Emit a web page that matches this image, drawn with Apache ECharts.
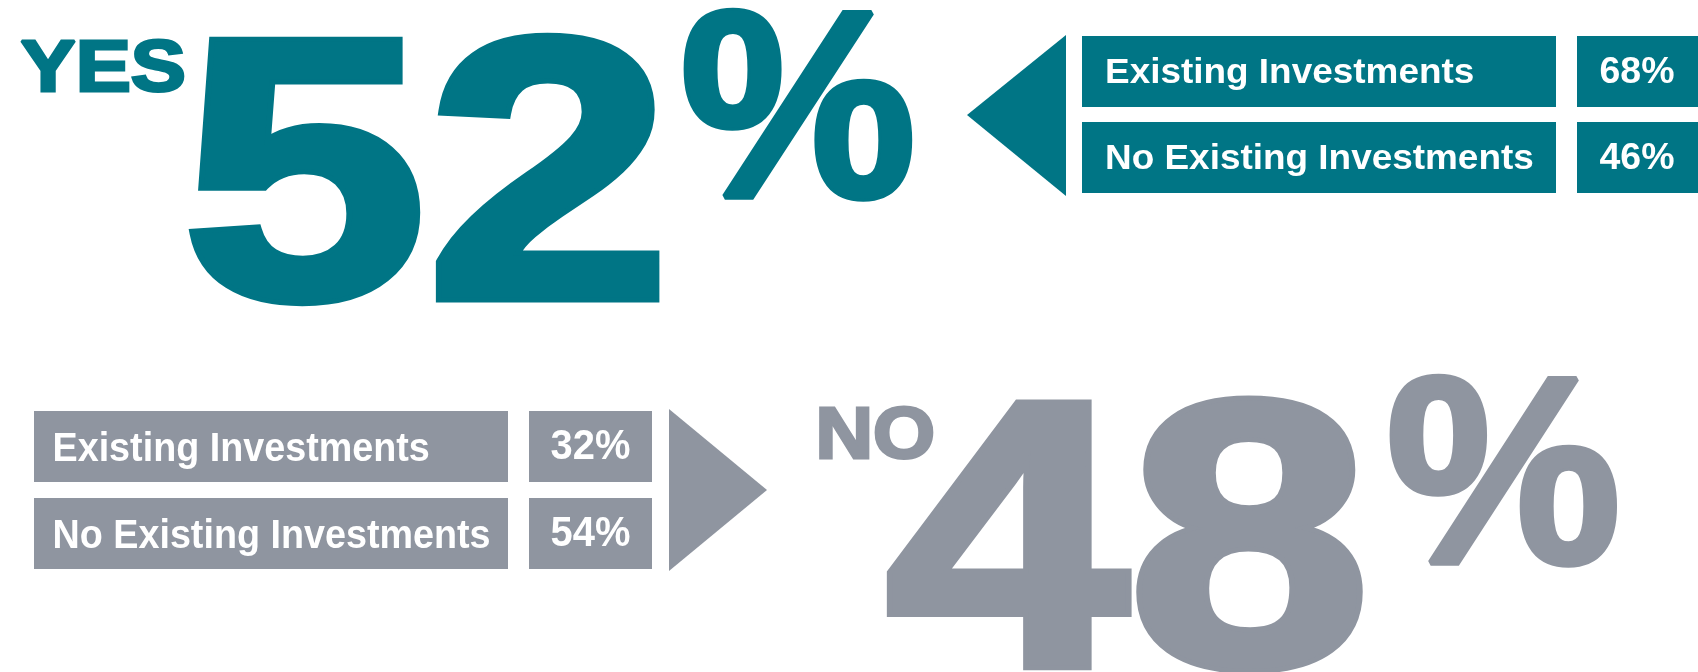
<!DOCTYPE html>
<html>
<head>
<meta charset="utf-8">
<title>Yes 52% / No 48%</title>
<script src="https://cdn.jsdelivr.net/npm/echarts@6/dist/echarts.min.js"></script>
<style>
  html, body { margin: 0; padding: 0; background: #fff; }
  #chart { width: 1698px; height: 672px; }
</style>
</head>
<body>
<div id="chart"></div>
<script>
// data
const answers = ['YES', 'NO'];
const answerShare = [52, 48];
const segments = ['Existing Investments', 'No Existing Investments'];
const yesBySegment = [68, 46];
const noBySegment = [32, 54];

const TEAL = '#007585';
const GREY = '#8f95a0';
const FONT = '"Liberation Sans", Arial, Helvetica, sans-serif';

// text helper: y is the middle line, scaleX stretches from the left edge,
// an optional outline of the same colour makes the heavy display weight
function txt(str, x, y, size, color, sx, align, heavy) {
  const style = {
    text: str,
    x: 0,
    y: 0,
    fill: color,
    fontSize: size,
    fontWeight: 'bold',
    fontFamily: FONT,
    align: align || 'left',
    verticalAlign: 'middle'
  };
  if (heavy) {
    style.stroke = color;
    style.lineWidth = heavy;
    style.lineJoin = 'miter';
    style.miterLimit = 2;
  }
  return { type: 'text', x: x, y: y, scaleX: sx || 1, style: style };
}

function box(x, y, w, h, color) {
  return { type: 'rect', shape: { x: x, y: y, width: w, height: h }, style: { fill: color } };
}

function arrow(points, color) {
  return { type: 'polygon', shape: { points: points }, style: { fill: color } };
}

const chartDom = document.getElementById('chart');
const myChart = echarts.init(chartDom, null, { renderer: 'canvas' });

const els = [];

// YES block
els.push(txt(answers[0], 20.6, 70.8, 73, TEAL, 1.132, 'left', 3));
els.push(txt(String(answerShare[0]), 182, 195, 372, TEAL, 1.182, 'left', 10));
els.push(txt('%', 680, 123, 267, TEAL, 0.995, 'left', 6));

els.push(arrow([[1066, 35], [1066, 196], [967, 115]], TEAL));
const topRows = [36, 122];
topRows.forEach(function (y, i) {
  els.push(box(1082, y, 474, 71, TEAL));
  els.push(box(1577, y, 140, 71, TEAL));
  els.push(txt(segments[i], 1105, y + 37, 35.5, '#fff', 1.04));
  els.push(txt(yesBySegment[i] + '%', 1637, y + 37, 36, '#fff', 1.04, 'center'));
});

// NO block
const botRows = [411, 498];
botRows.forEach(function (y, i) {
  els.push(box(34, y, 474, 71, GREY));
  els.push(box(529, y, 123, 71, GREY));
  els.push(txt(segments[i], 52.5, y + 39, 41, '#fff', 0.92));
  els.push(txt(noBySegment[i] + '%', 590.5, y + 36, 42, '#fff', 0.95, 'center'));
});
els.push(arrow([[669, 409], [669, 571], [767, 490]], GREY));

els.push(txt(answers[1], 815.5, 437.9, 72.5, GREY, 1.10, 'left', 3));
els.push(txt(String(answerShare[1]), 886, 560.7, 379, GREY, 1.149, 'left', 10));
els.push(txt('%', 1386, 489, 267, GREY, 0.99, 'left', 6));

const option = {
  backgroundColor: '#fff',
  animation: false,
  graphic: { elements: els }
};

option && myChart.setOption(option);
window.addEventListener('resize', myChart.resize);
</script>
</body>
</html>
